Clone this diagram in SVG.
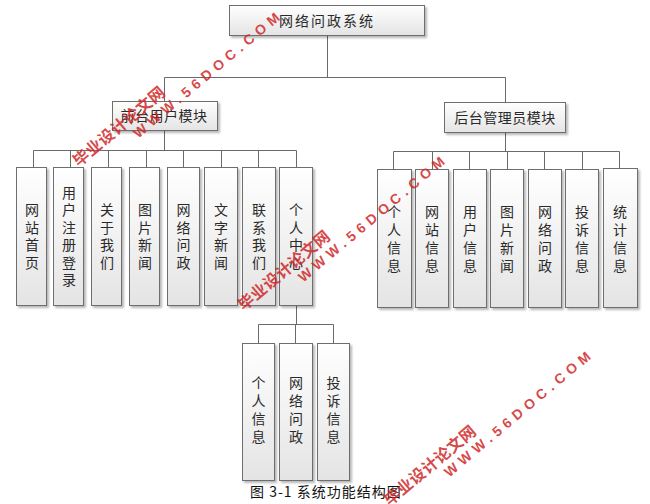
<svg xmlns="http://www.w3.org/2000/svg" xmlns:xlink="http://www.w3.org/1999/xlink" width="650" height="504" viewBox="0 0 650 504">
<defs>
<linearGradient id="g" x1="0" y1="0" x2="0" y2="1">
<stop offset="0" stop-color="#ffffff"/>
<stop offset="1" stop-color="#e4e4e4"/>
</linearGradient>
<filter id="sh" x="-20%" y="-20%" width="150%" height="150%">
<feDropShadow dx="2" dy="2" stdDeviation="1.2" flood-color="#000" flood-opacity="0.28"/>
</filter>
<g id="wm">
<text class="wm" x="0" y="6" font-size="16" textLength="114" lengthAdjust="spacing">毕业设计论文网</text>
<text class="wm" x="64" y="22" font-size="14" textLength="186" lengthAdjust="spacing">WWW.56DOC.COM</text>
</g>
</defs>
<style>
.box{fill:url(#g);stroke:#6e6e6e;stroke-width:1;filter:url(#sh)}
.t{font-family:"Noto Sans CJK SC","Liberation Sans",sans-serif;font-size:14px;fill:#2a2a2a;text-anchor:middle}
.v{font-family:"Noto Sans CJK SC","Liberation Sans",sans-serif;font-size:14px;fill:#2a2a2a;text-anchor:middle;writing-mode:vertical-rl;letter-spacing:3.5px}
.v4{letter-spacing:4px}
.c{fill:none;stroke:#6a6a6a;stroke-width:1}
.wm{font-family:"Liberation Sans","Noto Sans CJK SC",sans-serif;font-weight:bold;fill:#d02828;fill-opacity:0.85}
</style>
<rect width="650" height="504" fill="#ffffff"/>
<g id="connectors" class="c">
<path d="M327.5 35V77.5M164.5 77.5H505.5M164.5 77.5V101M505.5 77.5V102"/>
<path d="M164.5 130V150.5M33.5 150.5H296.5M33.5 150.5V167M70.5 150.5V167M108.5 150.5V167M146.5 150.5V167M183.5 150.5V167M221.5 150.5V167M258.5 150.5V167M296.5 150.5V167"/>
<path d="M505.5 132V151.5M393.5 151.5H619.5M393.5 151.5V169M432.5 151.5V169M469.5 151.5V169M507.5 151.5V169M544.5 151.5V169M582.5 151.5V169M619.5 151.5V169"/>
<path d="M296.5 305V324.5M258.5 324.5H333.5M258.5 324.5V343M295.5 324.5V343M333.5 324.5V343"/>
</g>
<g id="root"><rect class="box" x="229.5" y="5.5" width="195" height="30"/><text class="t" x="327" y="26" font-size="13" letter-spacing="2">网络问政系统</text></g>
<g id="front"><rect class="box" x="112.5" y="101.5" width="105" height="29"/><text class="t" x="164" y="121" letter-spacing="0.5">前台用户模块</text></g>
<g id="back"><rect class="box" x="444.5" y="102.5" width="121" height="30"/><text class="t" x="505" y="123" letter-spacing="0.5">后台管理员模块</text></g>

<g id="f1"><rect class="box" x="16.5" y="167.5" width="30" height="138"/><text class="v" x="32" y="238">网站首页</text></g>
<g id="f2"><rect class="box" x="53.5" y="167.5" width="30" height="138"/><text class="v" x="69" y="238">用户注册登录</text></g>
<g id="f3"><rect class="box" x="91.5" y="167.5" width="30" height="138"/><text class="v" x="107" y="238">关于我们</text></g>
<g id="f4"><rect class="box" x="129.5" y="167.5" width="30" height="138"/><text class="v" x="145" y="238">图片新闻</text></g>
<g id="f5"><rect class="box" x="167.5" y="167.5" width="32" height="138"/><text class="v" x="183.5" y="238">网络问政</text></g>
<g id="f6"><rect class="box" x="204.5" y="167.5" width="33" height="138"/><text class="v" x="221" y="238">文字新闻</text></g>
<g id="f7"><rect class="box" x="242.5" y="167.5" width="33" height="138"/><text class="v" x="259" y="238">联系我们</text></g>
<g id="f8"><rect class="box" x="279.5" y="167.5" width="33" height="138"/><text class="v" x="296" y="238">个人中心</text></g>

<g id="p1"><rect class="box" x="242.5" y="343.5" width="32" height="137"/><text class="v v4" x="258.5" y="412">个人信息</text></g>
<g id="p2"><rect class="box" x="279.5" y="343.5" width="33" height="137"/><text class="v v4" x="296" y="412">网络问政</text></g>
<g id="p3"><rect class="box" x="317.5" y="343.5" width="32" height="137"/><text class="v v4" x="333.5" y="412">投诉信息</text></g>

<g id="b1"><rect class="box" x="377.5" y="169.5" width="34" height="138"/><text class="v v4" x="394" y="241">个人信息</text></g>
<g id="b2"><rect class="box" x="415.5" y="169.5" width="33" height="138"/><text class="v v4" x="432" y="241">网站信息</text></g>
<g id="b3"><rect class="box" x="453.5" y="169.5" width="33" height="138"/><text class="v v4" x="470" y="241">用户信息</text></g>
<g id="b4"><rect class="box" x="490.5" y="169.5" width="33" height="138"/><text class="v v4" x="507" y="241">图片新闻</text></g>
<g id="b5"><rect class="box" x="528.5" y="169.5" width="33" height="138"/><text class="v v4" x="545" y="241">网络问政</text></g>
<g id="b6"><rect class="box" x="565.5" y="169.5" width="33" height="138"/><text class="v v4" x="582" y="241">投诉信息</text></g>
<g id="b7"><rect class="box" x="603.5" y="168.5" width="34" height="139"/><text class="v v4" x="620" y="241">统计信息</text></g>

<text id="caption" x="250" y="497" font-family="Noto Sans CJK SC, Liberation Sans, sans-serif" font-size="14" fill="#111" letter-spacing="1">图 3-1 系统功能结构图</text>

<g id="watermarks">
<use xlink:href="#wm" transform="translate(75 163) rotate(-40)"/>
<use xlink:href="#wm" transform="translate(240 307) rotate(-40)"/>
<use xlink:href="#wm" transform="translate(386 502) rotate(-40)"/>
</g>
</svg>
